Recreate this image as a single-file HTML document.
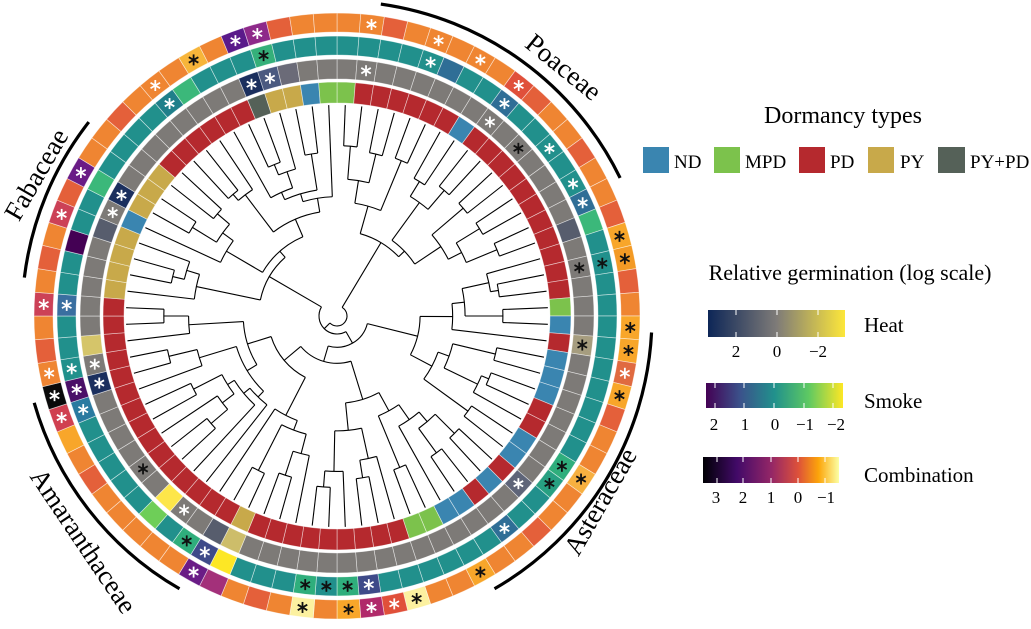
<!DOCTYPE html>
<html><head><meta charset="utf-8">
<style>
html,body{margin:0;padding:0;background:#fff;}
svg{display:block;}
text{font-family:"Liberation Serif","Times New Roman",serif;}
</style></head>
<body>
<svg id="s" width="1031" height="629" viewBox="0 0 1031 629" xmlns="http://www.w3.org/2000/svg" font-family="Liberation Serif, serif">
<defs>
<linearGradient id="gh" x1="0" x2="1"><stop offset="0" stop-color="#0d2657"/><stop offset="0.5" stop-color="#7e7b78"/><stop offset="1" stop-color="#fde73a"/></linearGradient>
<linearGradient id="gs" x1="0" x2="1"><stop offset="0" stop-color="#440154"/><stop offset="0.25" stop-color="#3b528b"/><stop offset="0.5" stop-color="#21918c"/><stop offset="0.75" stop-color="#5ec962"/><stop offset="1" stop-color="#fde725"/></linearGradient>
<linearGradient id="gc" x1="0" x2="1"><stop offset="0" stop-color="#000004"/><stop offset="0.25" stop-color="#420a68"/><stop offset="0.5" stop-color="#932667"/><stop offset="0.7" stop-color="#dd513a"/><stop offset="0.85" stop-color="#fca50a"/><stop offset="1" stop-color="#fcffa4"/></linearGradient>
</defs>
<g id="chart"></g>
<g font-family="Liberation Serif, serif">
<text x="843" y="123" font-size="24" text-anchor="middle">Dormancy types</text>
<rect x="643" y="147" width="26" height="26" fill="#3a85b0"/><text x="674" y="168" font-size="19">ND</text>
<rect x="714" y="147" width="26" height="26" fill="#7cc24c"/><text x="745" y="168" font-size="19">MPD</text>
<rect x="799" y="147" width="26" height="26" fill="#b5292e"/><text x="830" y="168" font-size="19">PD</text>
<rect x="868" y="147" width="26" height="26" fill="#c8a94a"/><text x="900" y="168" font-size="19">PY</text>
<rect x="938" y="147" width="27" height="26" fill="#556158"/><text x="970" y="168" font-size="19">PY+PD</text>
<text x="850" y="280" font-size="22" text-anchor="middle">Relative germination (log scale)</text>

<rect x="708" y="310" width="137" height="27" fill="url(#gh)"/>
<g stroke="#fff" stroke-width="1"><line x1="736" y1="310" x2="736" y2="315"/><line x1="736" y1="332" x2="736" y2="337"/><line x1="777" y1="310" x2="777" y2="315"/><line x1="777" y1="332" x2="777" y2="337"/><line x1="818" y1="310" x2="818" y2="315"/><line x1="818" y1="332" x2="818" y2="337"/></g>
<g font-size="17" text-anchor="middle"><text x="736" y="357">2</text><text x="777" y="357">0</text><text x="818" y="357">−2</text></g>
<text x="864" y="332" font-size="21">Heat</text>

<rect x="706" y="383" width="137" height="25" fill="url(#gs)"/>
<g stroke="#fff" stroke-width="1"><line x1="715" y1="383" x2="715" y2="388"/><line x1="715" y1="403" x2="715" y2="408"/><line x1="744" y1="383" x2="744" y2="388"/><line x1="744" y1="403" x2="744" y2="408"/><line x1="774" y1="383" x2="774" y2="388"/><line x1="774" y1="403" x2="774" y2="408"/><line x1="804" y1="383" x2="804" y2="388"/><line x1="804" y1="403" x2="804" y2="408"/><line x1="833" y1="383" x2="833" y2="388"/><line x1="833" y1="403" x2="833" y2="408"/></g>
<g font-size="17" text-anchor="middle"><text x="714" y="430">2</text><text x="745" y="430">1</text><text x="775" y="430">0</text><text x="805" y="430">−1</text><text x="836" y="430">−2</text></g>
<text x="864" y="408" font-size="21">Smoke</text>

<rect x="703" y="457" width="136" height="26" fill="url(#gc)"/>
<g stroke="#fff" stroke-width="1"><line x1="717" y1="457" x2="717" y2="462"/><line x1="717" y1="478" x2="717" y2="483"/><line x1="743" y1="457" x2="743" y2="462"/><line x1="743" y1="478" x2="743" y2="483"/><line x1="771" y1="457" x2="771" y2="462"/><line x1="771" y1="478" x2="771" y2="483"/><line x1="798" y1="457" x2="798" y2="462"/><line x1="798" y1="478" x2="798" y2="483"/><line x1="825" y1="457" x2="825" y2="462"/><line x1="825" y1="478" x2="825" y2="483"/></g>
<g font-size="17" text-anchor="middle"><text x="716" y="503">3</text><text x="743" y="503">2</text><text x="771" y="503">1</text><text x="798" y="503">0</text><text x="826" y="503">−1</text></g>
<text x="864" y="482" font-size="21">Combination</text>

<g font-size="27" text-anchor="middle">
<text transform="translate(558,74) rotate(39)">Poaceae</text>
<text transform="translate(44,179) rotate(-60)">Fabaceae</text>
<text transform="translate(76,546) rotate(56)">Amaranthaceae</text>
<text transform="translate(608,506) rotate(-60)">Asteraceae</text>
</g>
</g>
</svg>
<script>
(function(){
var NS="http://www.w3.org/2000/svg";
var g=document.getElementById("chart");
var cx=337,cy=316,N=80,W=360/N;
function pt(r,a){var t=a*Math.PI/180;return [cx+r*Math.sin(t),cy-r*Math.cos(t)];}
function el(n,at){var e=document.createElementNS(NS,n);for(var k in at)e.setAttribute(k,at[k]);g.appendChild(e);return e;}
function seg(r0,r1,a0,a1,fill){
 var p1=pt(r1,a0),p2=pt(r1,a1),p3=pt(r0,a1),p4=pt(r0,a0);
 el("path",{d:"M"+p1+"A"+r1+","+r1+" 0 0 1 "+p2+"L"+p3+"A"+r0+","+r0+" 0 0 0 "+p4+"Z",fill:fill,stroke:"#fff","stroke-width":"0.7","stroke-opacity":"0.6"});
}
function star(r,a,col){
 var p=pt(r,a);
 for(var k=0;k<3;k++){var t=k*Math.PI/3+Math.PI/2;var dx=5.5*Math.cos(t),dy=5.5*Math.sin(t);
  el("line",{x1:p[0]-dx,y1:p[1]-dy,x2:p[0]+dx,y2:p[1]+dy,stroke:col,"stroke-width":"1.8"});}
}
var ND="#3a85b0",MPD="#7cc24c",PD="#b5292e",PY="#c8a94a",PP="#556158";
var dorm=[];for(var i=0;i<N;i++)dorm.push(PD);
[7,20,22,23,24,27,28,30,32,33,65,78].forEach(function(i){dorm[i]=ND;});
[19,34,35,79,0].forEach(function(i){dorm[i]=MPD;});
[45,61,62,63,64,66,67,68,76,77].forEach(function(i){dorm[i]=PY;});
dorm[75]=PP;
var heat=[];for(i=0;i<N;i++)heat.push("#7d7a77");
var HS="#575d6d",HN="#1b2f5e";
heat[15]=HS;heat[21]="#a69d7f";heat[29]="#5e6478";heat[45]="#cdbd6a";heat[46]=HS;heat[49]="#fde64a";
heat[56]=HN;heat[58]="#d5c56a";heat[64]=HS;heat[66]=HN;heat[75]=HN;heat[76]="#4b5a80";heat[77]="#6b6b78";
var hst={1:"w",8:"w",10:"k",17:"k",21:"k",29:"w",48:"w",51:"k",56:"w",57:"w",65:"w",66:"w",75:"w",76:"w"};
var smoke=[];for(i=0;i<N;i++)smoke.push("#21908c");
var SB="#2f6e96",SG="#2fae7c",SI="#3e4a89";
smoke[5]=SB;smoke[8]=SB;smoke[14]=SB;smoke[15]="#3bb87a";smoke[27]=SG;smoke[28]="#27a082";smoke[31]=SB;
smoke[38]=SI;smoke[39]=SG;smoke[41]=SG;smoke[45]="#fde725";smoke[46]=SI;smoke[47]=SG;smoke[49]="#6ece58";
smoke[55]="#2a7aa0";smoke[56]="#4a1068";smoke[60]="#3a6fa0";smoke[63]="#440154";smoke[66]="#3bb87a";smoke[72]="#3bb87a";smoke[76]="#35b07a";smoke[71]="#1f7f8a";
var sst={4:"w",8:"w",11:"w",13:"w",14:"w",17:"k",27:"k",28:"k",31:"w",38:"w",39:"k",40:"k",41:"k",46:"w",47:"k",55:"w",56:"w",57:"w",60:"w",71:"w",76:"k"};
var combo=[];for(i=0;i<N;i++)combo.push("#ef8532");
var RO="#e4603a",YO="#f8a62a",PA="#fcf1a0";
[2,9,12,15,18,24,30,43,52,58,62,65,69,77].forEach(function(i){combo[i]=RO;});
combo[8]="#e0503a";combo[16]=YO;combo[17]="#f39a25";combo[20]=YO;combo[21]=YO;combo[22]="#e06a40";combo[23]=YO;combo[27]="#f7b040";
combo[33]=YO;combo[36]=PA;combo[37]="#e0503a";combo[38]="#b02a6a";combo[39]=YO;combo[41]=PA;combo[45]="#a3307a";combo[46]="#6a1c86";
combo[54]=YO;combo[55]="#d04050";combo[56]="#0a0a0a";combo[60]="#cc4157";combo[64]="#cc4157";combo[66]="#6a1c86";combo[73]="#f7b53a";
combo[75]="#5a1a8a";combo[76]="#8e2a8a";
var cst={1:"w",4:"w",6:"w",8:"w",16:"k",17:"k",20:"k",21:"k",22:"w",23:"k",27:"k",33:"k",36:"k",37:"w",38:"w",39:"k",41:"k",46:"w",55:"w",56:"w",57:"w",60:"w",64:"w",66:"w",71:"w",73:"k",75:"w",76:"w"};
for(i=0;i<N;i++){
 var a0=i*W,a1=(i+1)*W,am=a0+W/2;
 seg(213,234,a0,a1,dorm[i]);
 seg(237,257,a0,a1,heat[i]);
 seg(261,280,a0,a1,smoke[i]);
 seg(284,303,a0,a1,combo[i]);
 if(hst[i])star(247,am,hst[i]=="w"?"#fff":"#111");
 if(sst[i])star(270.5,am,sst[i]=="w"?"#fff":"#111");
 if(cst[i])star(293.5,am,cst[i]=="w"?"#fff":"#111");
}
var seed=7;function rnd(){seed=(seed*16807)%2147483647;return seed/2147483647;}
var LR=211;
function nodeR(n){return 10+185*(1-Math.log(n)/Math.log(N))+ (rnd()-0.5)*18;}
function build(lo,hi,r){
 if(hi-lo==1){return lo*W+W/2;}
 var n=hi-lo;
 var sp=lo+Math.max(1,Math.min(n-1,Math.round(n*(0.2+0.6*rnd()))));
 var kids=[[lo,sp],[sp,hi]],angs=[];
 kids.forEach(function(k){
  var m=k[1]-k[0];var cr=(m==1)?LR:Math.max(r+8,Math.min(LR-6,nodeR(m)));
  var a=build(k[0],k[1],cr);angs.push(a);
  var p0=pt(r,a),p1=pt(cr,a);
  el("line",{x1:p0[0],y1:p0[1],x2:p1[0],y2:p1[1],stroke:"#000","stroke-width":"1.1"});
 });
 var A0=Math.min(angs[0],angs[1]),A1=Math.max(angs[0],angs[1]);
 var q0=pt(r,A0),q1=pt(r,A1);
 el("path",{d:"M"+q0+"A"+r+","+r+" 0 "+((A1-A0)>180?1:0)+" 1 "+q1,fill:"none",stroke:"#000","stroke-width":"1.1"});
 return (angs[0]+angs[1])/2;
}
build(0,N,10);
function arc(a0,a1){var p0=pt(315,a0),p1=pt(315,a1);el("path",{d:"M"+p0+"A315,315 0 0 1 "+p1,fill:"none",stroke:"#000","stroke-width":"3.2"});}
arc(8,64);arc(-83,-52);arc(-150,-106);arc(93,150);
})();
</script>
</body></html>
